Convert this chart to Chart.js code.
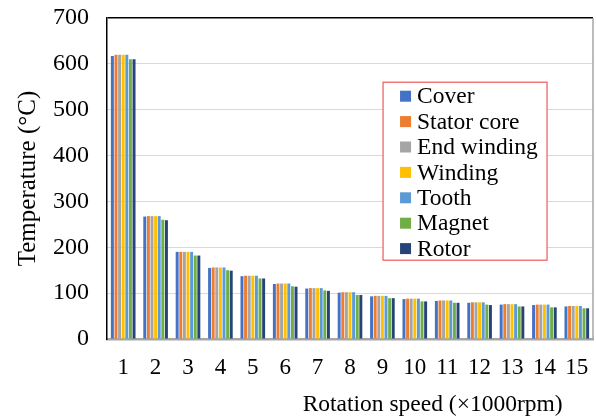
<!DOCTYPE html>
<html>
<head>
<meta charset="utf-8">
<script src="https://cdn.jsdelivr.net/npm/chart.js@4.4.1/dist/chart.umd.min.js"></script>
<style>
  html, body { margin: 0; padding: 0; background: #fff; }
  #wrap { width: 596px; height: 417px; }
</style>
</head>
<body>
<div id="wrap"><canvas id="chart" width="596" height="417"></canvas></div>
<script>
const speeds = ['1', '2', '3', '4', '5', '6', '7', '8', '9', '10', '11', '12', '13', '14', '15'];
const yTicks = [0, 100, 200, 300, 400, 500, 600, 700];

const cover      = [617, 267, 190, 155, 137, 120, 110, 101, 93, 87, 83, 79, 75, 74, 71];
const statorCore = [620, 268, 190, 156, 138, 121, 111, 102, 94, 88, 84, 80, 76, 75, 72];
const endWinding = [620, 268, 190, 156, 138, 121, 111, 102, 94, 88, 84, 80, 76, 75, 72];
const winding    = [620, 268, 190, 156, 138, 121, 111, 102, 94, 88, 84, 80, 76, 75, 72];
const tooth      = [620, 268, 190, 156, 138, 121, 111, 102, 94, 88, 84, 80, 76, 75, 72];
const magnet     = [610, 260, 182, 150, 132, 115, 106, 96, 89, 82, 79, 75, 71, 69, 67];
const rotor      = [610, 259, 182, 149, 132, 114, 105, 96, 89, 82, 79, 74, 71, 69, 67];

const FONT = "'Liberation Serif', 'Times New Roman', serif";

// legend box + x title + right frame line
const extras = {
  id: 'extras',
  afterDraw(chart) {
    const ctx = chart.ctx;
    const a = chart.chartArea;
    const w = a.right - a.left;
    const h = a.bottom - a.top;

    ctx.save();
    // right frame line
    ctx.strokeStyle = '#a6a6a6';
    ctx.lineWidth = 1.5;
    ctx.beginPath();
    ctx.moveTo(a.right, a.top);
    ctx.lineTo(a.right, a.bottom);
    ctx.stroke();

    // x axis title
    ctx.fillStyle = '#000';
    ctx.font = '23.5px ' + FONT;
    ctx.textAlign = 'center';
    ctx.textBaseline = 'middle';
    ctx.fillText('Rotation speed (×1000rpm)', a.left + w * 0.67, 405);

    // legend
    const bx = a.left + w * 0.568, by = a.top + h * 0.2;
    const bw = 164, bh = 178;
    ctx.fillStyle = '#fff';
    ctx.fillRect(bx, by, bw, bh);
    ctx.strokeStyle = '#f0595a';
    ctx.lineWidth = 1.2;
    ctx.strokeRect(bx, by, bw, bh);
    ctx.textAlign = 'left';
    ctx.font = '23.5px ' + FONT;
    chart.data.datasets.forEach((ds, i) => {
      const cy = by + 14 + i * 25.4;
      ctx.fillStyle = ds.backgroundColor;
      ctx.fillRect(bx + 17, cy - 5.5, 11, 11);
      ctx.fillStyle = '#000';
      ctx.fillText(ds.label, bx + 34, cy + 1);
    });
    ctx.restore();
  }
};

new Chart(document.getElementById('chart'), {
  type: 'bar',
  data: {
    labels: speeds,
    datasets: [
      { label: 'Cover', data: cover, backgroundColor: '#4472c4' },
      { label: 'Stator core', data: statorCore, backgroundColor: '#ed7d31' },
      { label: 'End winding', data: endWinding, backgroundColor: '#a5a5a5' },
      { label: 'Winding', data: winding, backgroundColor: '#ffc000' },
      { label: 'Tooth', data: tooth, backgroundColor: '#5b9bd5' },
      { label: 'Magnet', data: magnet, backgroundColor: '#70ad47' },
      { label: 'Rotor', data: rotor, backgroundColor: '#264478' }
    ]
  },
  options: {
    responsive: false,
    animation: false,
    layout: { padding: { top: 18, right: 3, left: 0, bottom: 0 } },
    datasets: { bar: { categoryPercentage: 0.78, barPercentage: 0.82, borderWidth: 0 } },
    plugins: {
      legend: { display: false },
      tooltip: { enabled: false }
    },
    scales: {
      x: {
        grid: { display: false },
        border: { color: '#a6a6a6', width: 2.5 },
        ticks: { color: '#000', font: { family: FONT, size: 23 }, padding: 7, maxRotation: 0 },
        afterFit(scale) { scale.height = 78; scale.paddingLeft = 0; scale.paddingRight = 0; }
      },
      y: {
        min: 0,
        max: 700,
        afterBuildTicks(scale) { scale.ticks = yTicks.map(v => ({ value: v })); },
        grid: {
          drawTicks: false,
          color: ctx => (ctx.tick && ctx.tick.value === 700 ? '#000' : '#d9d9d9'),
          lineWidth: ctx => (ctx.tick && ctx.tick.value === 700 ? 1.5 : 1)
        },
        border: { color: '#000', width: 1.5 },
        ticks: { color: '#000', font: { family: FONT, size: 24 }, padding: 18 },
        title: {
          display: true,
          text: 'Temperature (°C)',
          color: '#000',
          font: { family: FONT, size: 25 },
          padding: { top: 13, bottom: 0 }
        },
        afterFit(scale) { scale.width = 107; scale.paddingTop = 0; scale.paddingBottom = 0; }
      }
    }
  },
  plugins: [extras]
});
</script>
</body>
</html>
